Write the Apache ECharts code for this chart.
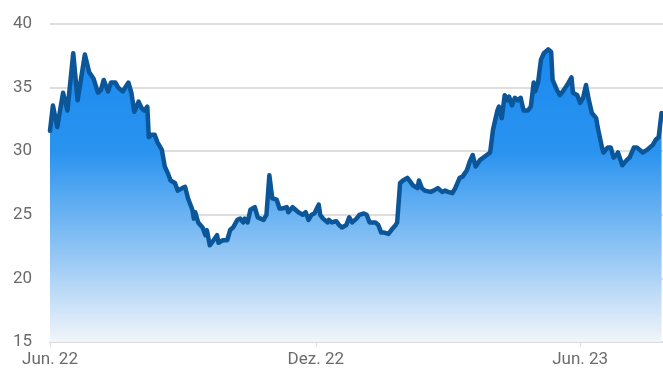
<!DOCTYPE html>
<html>
<head>
<meta charset="utf-8">
<script src="https://cdn.jsdelivr.net/npm/echarts@6/dist/echarts.min.js"></script>
<style>html,body{margin:0;padding:0;background:#fff}#c{width:663px;height:373px}</style>
</head>
<body>
<div id="c"></div>
<script>
const dates = [
'2022-06-01','2022-06-03','2022-06-06','2022-06-10','2022-06-13','2022-06-17','2022-06-20','2022-06-25','2022-06-28','2022-07-01',
'2022-07-04','2022-07-06','2022-07-08','2022-07-11','2022-07-13','2022-07-16','2022-07-18','2022-07-21','2022-07-25','2022-07-27',
'2022-07-29','2022-08-01','2022-08-03','2022-08-05','2022-08-07','2022-08-08','2022-08-10','2022-08-12','2022-08-14','2022-08-17',
'2022-08-19','2022-08-21','2022-08-23','2022-08-26','2022-08-28','2022-08-31','2022-09-02','2022-09-04','2022-09-07','2022-09-08',
'2022-09-09','2022-09-11','2022-09-14','2022-09-16','2022-09-17','2022-09-19','2022-09-21','2022-09-24','2022-09-25','2022-09-28',
'2022-10-01','2022-10-03','2022-10-05','2022-10-08','2022-10-10','2022-10-12','2022-10-13','2022-10-15','2022-10-17','2022-10-20',
'2022-10-22','2022-10-26','2022-10-28','2022-10-30','2022-11-01','2022-11-04','2022-11-06','2022-11-08','2022-11-11','2022-11-12',
'2022-11-15','2022-11-17','2022-11-19','2022-11-22','2022-11-24','2022-11-26','2022-11-28','2022-11-30','2022-12-03','2022-12-04',
'2022-12-06','2022-12-09','2022-12-10','2022-12-12','2022-12-15','2022-12-17','2022-12-19','2022-12-22','2022-12-24','2022-12-26',
'2022-12-29','2022-12-31','2023-01-03','2023-01-05','2023-01-07','2023-01-11','2023-01-13','2023-01-15','2023-01-17','2023-01-20',
'2023-01-22','2023-01-25','2023-01-26','2023-01-28','2023-01-30','2023-02-02','2023-02-04','2023-02-06','2023-02-09','2023-02-10',
'2023-02-12','2023-02-14','2023-02-18','2023-02-20','2023-02-23','2023-02-26','2023-02-28','2023-03-02','2023-03-05','2023-03-07',
'2023-03-08','2023-03-10','2023-03-12','2023-03-15','2023-03-17','2023-03-19','2023-03-21','2023-03-24','2023-03-31','2023-04-02',
'2023-04-05','2023-04-06','2023-04-08','2023-04-10','2023-04-12','2023-04-13','2023-04-15','2023-04-17','2023-04-19','2023-04-21',
'2023-04-23','2023-04-26','2023-04-28','2023-04-30','2023-05-01','2023-05-03','2023-05-05','2023-05-07','2023-05-10','2023-05-12',
'2023-05-13','2023-05-16','2023-05-18','2023-05-20','2023-05-23','2023-05-26','2023-05-27','2023-05-30','2023-06-01','2023-06-03',
'2023-06-05','2023-06-07','2023-06-09','2023-06-12','2023-06-13','2023-06-16','2023-06-17','2023-06-20','2023-06-22','2023-06-24',
'2023-06-26','2023-06-27','2023-06-30','2023-07-03','2023-07-05','2023-07-08','2023-07-10','2023-07-12','2023-07-14','2023-07-17',
'2023-07-19','2023-07-21','2023-07-23','2023-07-25','2023-07-27'
];
const values = [
31.6,33.6,31.9,34.6,33.2,37.7,34.0,37.6,36.2,35.7,
34.6,34.8,35.6,34.7,35.4,35.4,35.0,34.7,35.4,34.6,
33.1,33.9,33.4,33.2,33.5,31.1,31.3,31.3,30.7,30.1,
28.8,28.3,27.7,27.5,26.9,27.1,27.2,26.3,25.4,24.7,
25.2,24.4,24.0,23.4,23.8,22.6,22.9,23.4,22.8,23.0,
23.0,23.8,24.0,24.6,24.7,24.4,24.7,24.4,25.4,25.6,
24.8,24.6,25.0,28.1,26.3,26.2,25.5,25.5,25.6,25.2,
25.6,25.4,25.2,25.0,25.2,24.6,25.0,25.1,25.8,25.0,
24.7,24.4,24.6,24.4,24.5,24.2,24.0,24.2,24.8,24.4,
24.7,25.0,25.1,25.0,24.4,24.4,24.2,23.6,23.6,23.5,
23.8,24.2,24.4,27.5,27.7,27.9,27.6,27.3,27.1,27.7,
27.1,26.9,26.8,26.9,27.1,26.8,26.9,26.8,26.7,27.1,
27.2,27.9,28.0,28.5,29.2,29.7,28.8,29.3,29.9,31.7,
33.2,33.5,32.6,34.4,34.0,34.3,33.6,34.2,34.0,34.2,
33.2,33.2,33.5,35.4,34.7,35.4,37.2,37.7,38.0,37.8,
35.6,34.8,34.4,34.7,35.2,35.8,34.6,34.4,33.8,34.2,
35.2,34.0,33.0,32.6,31.9,30.3,29.9,30.3,30.3,29.5,
29.7,29.9,28.9,29.3,29.5,30.3,30.3,30.1,29.9,30.1,
30.3,30.5,30.9,31.1,33.0
];
const tickDates = ['2022-06-01','2022-12-01','2023-06-01'];
const tickLabels = ['Jun. 22','Dez. 22','Jun. 23'];
const axisMin = '2022-06-01';
const axisMax = '2023-07-28';

function ts(s){const p=s.split('-').map(Number);return Date.UTC(p[0],p[1]-1,p[2]);}
const tickTs = tickDates.map(ts);
const chart = echarts.init(document.getElementById('c'));
chart.setOption({
  animation:false,
  grid:{left:50,right:0,top:24,bottom:31,containLabel:false},
  xAxis:{
    type:'value', min:ts(axisMin), max:ts(axisMax), scale:true,
    axisLine:{show:true,lineStyle:{color:'#dcdcdc',width:2}},
    axisTick:{show:true,customValues:tickTs,length:5,lineStyle:{color:'#dcdcdc',width:1}},
    axisLabel:{customValues:tickTs,color:'#6b6b6b',fontFamily:'Roboto',fontSize:17,margin:9,
      showMinLabel:true,showMaxLabel:true,
      formatter:function(v){const i=tickTs.indexOf(v);return i>=0?tickLabels[i]:'';}},
    splitLine:{show:false}
  },
  yAxis:{
    type:'value', min:15, max:40, interval:5,
    axisLine:{show:false}, axisTick:{show:false},
    axisLabel:{color:'#6b6b6b',fontFamily:'Roboto',fontSize:17,margin:18},
    splitLine:{lineStyle:{color:'#dedede',width:2}}
  },
  series:[{
    type:'line',
    data:dates.map((d,i)=>[ts(d),values[i]]),
    showSymbol:false,
    lineStyle:{color:'#0b5699',width:4.5,join:'round',cap:'round'},
    areaStyle:{origin:'start',opacity:1,color:new echarts.graphic.LinearGradient(0,0,0,1,[
      {offset:0,color:'#1a8af0'},
      {offset:0.35,color:'#2a93ef'},
      {offset:0.7,color:'#93c6f4'},
      {offset:1,color:'#f2f5fa'}
    ])}
  }]
});
</script>
</body>
</html>
